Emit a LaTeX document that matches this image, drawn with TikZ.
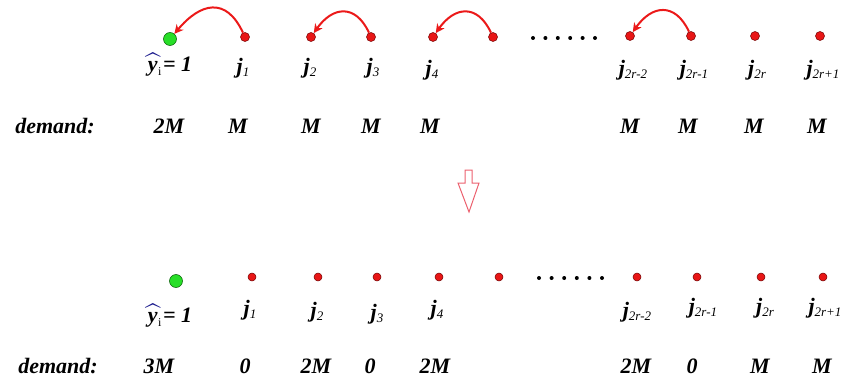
\documentclass[tikz,border=0pt]{standalone}
\usepackage{graphicx}
\usepackage{amsmath}
\usepackage{xcolor}
\usepackage{fontspec}
\setmainfont{Liberation Serif}
\usepackage{tikz}
\usetikzlibrary{arrows.meta}

\definecolor{dotred}{RGB}{232,22,22}
\definecolor{dotgreen}{RGB}{40,222,40}
\definecolor{hatblue}{RGB}{25,25,140}
\definecolor{hopred}{RGB}{235,25,25}
\definecolor{downpink}{RGB}{236,96,110}

\newcommand{\jlab}[1]{j\raisebox{-0.35ex}{\fontsize{13}{13}\selectfont\mdseries #1}}
\newcommand{\yhatlab}{\rlap{\hspace{-1.5pt}\raisebox{-2.5pt}{\textcolor{hatblue}{\scalebox{1.35}[1.3]{$\widehat{\phantom{\text{y}}}$}}}}y\hspace{0.5pt}\raisebox{-0.4ex}{\fontsize{12}{12}\selectfont\mdseries\upshape i}\hspace{1.5pt}= 1}

\begin{document}
\begin{tikzpicture}[
  x=1pt, y=1pt,
  >={Stealth[length=9pt,width=9pt]},
  lbl/.style={font=\fontsize{22}{24}\selectfont\bfseries\itshape, inner sep=0pt},
  rdot/.style={circle, fill=dotred, draw=red!45!black, line width=0.5pt,
    minimum size=9pt, inner sep=0pt},
  rdots/.style={rdot, minimum size=8pt},
  gdot/.style={circle, fill=dotgreen, draw=green!35!black, line width=0.5pt,
    minimum size=13pt, inner sep=0pt},
  edot/.style={circle, fill=black, minimum size=4pt, inner sep=0pt},
  hop/.style={->, line width=2pt, draw=hopred, looseness=1.5},
  hollow/.style={draw=downpink, line width=1pt, fill=white},
]
\useasboundingbox (0,0) rectangle (841,381);

% before
\node[gdot] (ug) at (170,342) {};
\node[rdot] (u1) at (245,344) {};
\node[rdot] (u2) at (311,344) {};
\node[rdot] (u3) at (371,344) {};
\node[rdot] (u4) at (433,344) {};
\node[rdot] (u5) at (493,344) {};
\node[rdot] (um2) at (630,345) {};
\node[rdot] (um1) at (691,345) {};
\node[rdot] (ur) at (755,345) {};
\node[rdot] (ur1) at (820,345) {};
\foreach \i in {0,...,5}
  \node[edot] (ue\i) at (533+12.4*\i,343) {};

\draw[hop] (u1) to[out=115, in=50] (ug);
\draw[hop] (u3) to[out=115, in=55] (u2);
\draw[hop] (u5) to[out=115, in=55] (u4);
\draw[hop] (um1) to[out=115, in=55] (um2);

\node[lbl] (uyl) at (170,314) {\yhatlab};
\node[lbl] (uj1) at (243,313) {\jlab{1}};
\node[lbl] (uj2) at (310,313) {\jlab{2}};
\node[lbl] (uj3) at (373,313) {\jlab{3}};
\node[lbl] (uj4) at (432,311) {\jlab{4}};
\node[lbl] (ujm2) at (633,311) {\jlab{2r-2}};
\node[lbl] (ujm1) at (694,311) {\jlab{2r-1}};
\node[lbl] (ujr) at (757,311) {\jlab{2r}};
\node[lbl] (ujr1) at (823,311) {\jlab{2r+1}};

\node[lbl] (udem) at (55,255) {demand:};
\node[lbl] (udg) at (169,255) {2M};
\node[lbl] (ud1) at (238,255) {M};
\node[lbl] (ud2) at (311,255) {M};
\node[lbl] (ud3) at (371,255) {M};
\node[lbl] (ud4) at (430,255) {M};
\node[lbl] (udm2) at (630,255) {M};
\node[lbl] (udm1) at (688,255) {M};
\node[lbl] (udr) at (754,255) {M};
\node[lbl] (udr1) at (817,255) {M};

% down arrow
\draw[hollow] (465,211) -- (472,211) -- (472,198) -- (479,198) -- (469,169)
  -- (458,198) -- (465,198) -- cycle;

% after
\node[gdot] (lg) at (176,100) {};
\node[rdots] (l1) at (252,104) {};
\node[rdots] (l2) at (318,104) {};
\node[rdots] (l3) at (377,104) {};
\node[rdots] (l4) at (439,104) {};
\node[rdots] (l5) at (499,104) {};
\node[rdots] (lm2) at (637,104) {};
\node[rdots] (lm1) at (697,104) {};
\node[rdots] (lr) at (761,104) {};
\node[rdots] (lr1) at (823,104) {};
\foreach \i in {0,...,5}
  \node[edot] (le\i) at (539+12.6*\i,103) {};

\node[lbl] (lyl) at (170,63) {\yhatlab};
\node[lbl] (lj1) at (250,71) {\jlab{1}};
\node[lbl] (lj2) at (317,69) {\jlab{2}};
\node[lbl] (lj3) at (377,67) {\jlab{3}};
\node[lbl] (lj4) at (437,71) {\jlab{4}};
\node[lbl] (ljm2) at (637,69) {\jlab{2r-2}};
\node[lbl] (ljm1) at (703,73) {\jlab{2r-1}};
\node[lbl] (ljr) at (765,73) {\jlab{2r}};
\node[lbl] (ljr1) at (825,73) {\jlab{2r+1}};

\node[lbl] (ldem) at (58,15) {demand:};
\node[lbl] (ldg) at (159,15) {3M};
\node[lbl] (ld1) at (245,15) {0};
\node[lbl] (ld2) at (316,15) {2M};
\node[lbl] (ld3) at (370,15) {0};
\node[lbl] (ld4) at (435,15) {2M};
\node[lbl] (ldm2) at (636,15) {2M};
\node[lbl] (ldm1) at (692,15) {0};
\node[lbl] (ldr) at (760,15) {M};
\node[lbl] (ldr1) at (822,15) {M};
\end{tikzpicture}
\end{document}
